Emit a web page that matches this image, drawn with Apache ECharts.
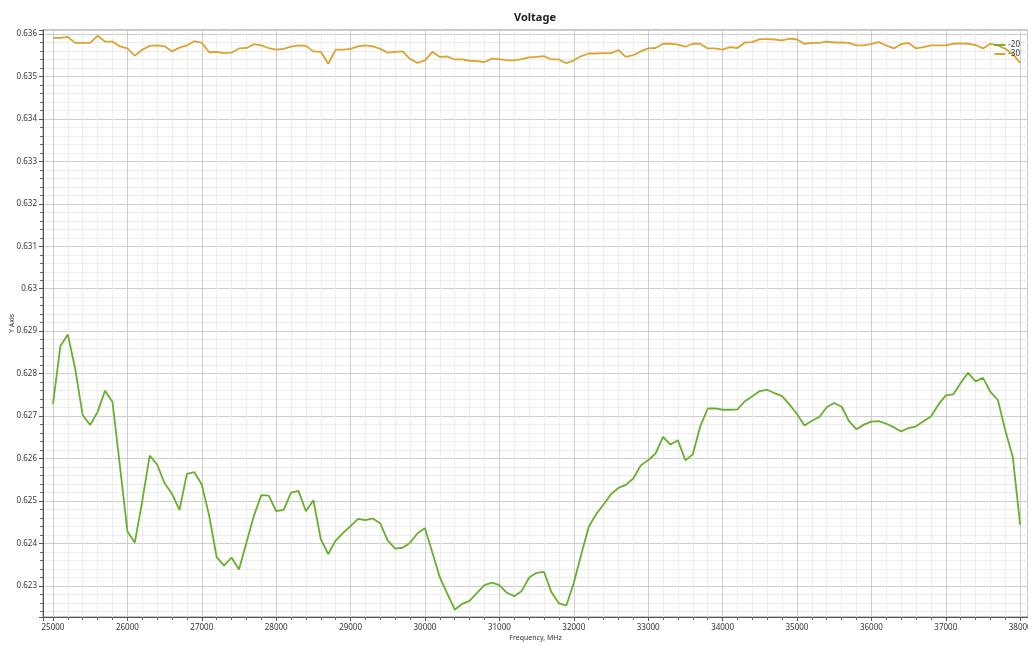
<!DOCTYPE html>
<html>
<head>
<meta charset="utf-8">
<script src="https://cdn.jsdelivr.net/npm/echarts@6/dist/echarts.min.js"></script>
<style>
html, body { margin: 0; padding: 0; background: #fff; }
#chart { width: 1028px; height: 646px; }
</style>
</head>
<body>
<div id="chart"></div>
<script>
// frequency, MHz
var freqs = [
  25000, 25100, 25200, 25300, 25400, 25500, 25600, 25700, 25800, 25900,
  26000, 26100, 26200, 26300, 26400, 26500, 26600, 26700, 26800, 26900,
  27000, 27100, 27200, 27300, 27400, 27500, 27600, 27700, 27800, 27900,
  28000, 28100, 28200, 28300, 28400, 28500, 28600, 28700, 28800, 28900,
  29000, 29100, 29200, 29300, 29400, 29500, 29600, 29700, 29800, 29900,
  30000, 30100, 30200, 30300, 30400, 30500, 30600, 30700, 30800, 30900,
  31000, 31100, 31200, 31300, 31400, 31500, 31600, 31700, 31800, 31900,
  32000, 32100, 32200, 32300, 32400, 32500, 32600, 32700, 32800, 32900,
  33000, 33100, 33200, 33300, 33400, 33500, 33600, 33700, 33800, 33900,
  34000, 34100, 34200, 34300, 34400, 34500, 34600, 34700, 34800, 34900,
  35000, 35100, 35200, 35300, 35400, 35500, 35600, 35700, 35800, 35900,
  36000, 36100, 36200, 36300, 36400, 36500, 36600, 36700, 36800, 36900,
  37000, 37100, 37200, 37300, 37400, 37500, 37600, 37700, 37800, 37900,
  38000
];

var volt20 = [
  0.62729, 0.62865, 0.62892, 0.62810, 0.62702, 0.62679, 0.62710, 0.62760, 0.62733, 0.62582,
  0.62429, 0.62402, 0.62500, 0.62607, 0.62586, 0.62542, 0.62517, 0.62479, 0.62564, 0.62568,
  0.62539, 0.62465, 0.62368, 0.62348, 0.62367, 0.62339, 0.62402, 0.62465, 0.62514, 0.62513,
  0.62476, 0.62479, 0.62520, 0.62524, 0.62476, 0.62502, 0.62410, 0.62375, 0.62407, 0.62425,
  0.62441, 0.62458, 0.62455, 0.62459, 0.62447, 0.62407, 0.62388, 0.62390, 0.62402, 0.62424,
  0.62436, 0.62378, 0.62320, 0.62282, 0.62244, 0.62258, 0.62265, 0.62284, 0.62302, 0.62308,
  0.62302, 0.62284, 0.62276, 0.62288, 0.62320, 0.62331, 0.62333, 0.62285, 0.62259, 0.62254,
  0.62307, 0.62374, 0.62439, 0.62469, 0.62492, 0.62516, 0.62531, 0.62538, 0.62553, 0.62584,
  0.62596, 0.62612, 0.62651, 0.62633, 0.62643, 0.62596, 0.62610, 0.62676, 0.62718, 0.62718,
  0.62715, 0.62715, 0.62716, 0.62735, 0.62747, 0.62759, 0.62762, 0.62754, 0.62747, 0.62727,
  0.62705, 0.62678, 0.62689, 0.62698, 0.62721, 0.62731, 0.62722, 0.62688, 0.62669, 0.62680,
  0.62687, 0.62688, 0.62682, 0.62674, 0.62664, 0.62672, 0.62676, 0.62688, 0.62699, 0.62727,
  0.62749, 0.62751, 0.62778, 0.62802, 0.62782, 0.62790, 0.62757, 0.62738, 0.62666, 0.62604,
  0.62444
];

var volt30 = [
  0.63591, 0.63591, 0.63593, 0.63579, 0.63579, 0.63579, 0.63596, 0.63582, 0.63582, 0.63571,
  0.63566, 0.63549, 0.63563, 0.63572, 0.63573, 0.63571, 0.63559, 0.63568, 0.63573, 0.63583,
  0.63579, 0.63557, 0.63558, 0.63555, 0.63556, 0.63566, 0.63567, 0.63576, 0.63573, 0.63567,
  0.63563, 0.63565, 0.63570, 0.63573, 0.63572, 0.63559, 0.63558, 0.63530, 0.63563, 0.63563,
  0.63565, 0.63571, 0.63573, 0.63571, 0.63565, 0.63556, 0.63558, 0.63559, 0.63541, 0.63532,
  0.63538, 0.63558, 0.63546, 0.63547, 0.63540, 0.63540, 0.63537, 0.63536, 0.63534, 0.63542,
  0.63541, 0.63538, 0.63538, 0.63541, 0.63545, 0.63546, 0.63548, 0.63540, 0.63540, 0.63531,
  0.63538, 0.63548, 0.63554, 0.63554, 0.63555, 0.63555, 0.63562, 0.63546, 0.63550, 0.63559,
  0.63566, 0.63567, 0.63577, 0.63577, 0.63575, 0.63570, 0.63577, 0.63577, 0.63566, 0.63566,
  0.63563, 0.63569, 0.63567, 0.63580, 0.63581, 0.63588, 0.63588, 0.63587, 0.63585, 0.63589,
  0.63587, 0.63577, 0.63579, 0.63579, 0.63582, 0.63580, 0.63580, 0.63579, 0.63573, 0.63573,
  0.63577, 0.63581, 0.63573, 0.63566, 0.63576, 0.63579, 0.63566, 0.63569, 0.63573, 0.63573,
  0.63573, 0.63577, 0.63578, 0.63577, 0.63574, 0.63566, 0.63577, 0.63573, 0.63565, 0.63553,
  0.63532
];

var seriesNames = ['-20', '-30'];
var seriesColors = ['#6aad2f', '#dba332'];

function pairs(ys) {
  var out = [];
  for (var i = 0; i < freqs.length; i++) out.push([freqs[i], ys[i]]);
  return out;
}

var font = 'Noto Sans';
var chart = echarts.init(document.getElementById('chart'));
var option = {
  animation: false,
  textStyle: { fontFamily: font },
  title: {
    text: 'Voltage',
    left: 514,
    top: 12,
    padding: 0,
    textStyle: { fontSize: 11, fontWeight: 'bold', color: '#222', fontFamily: font }
  },
  legend: {
    orient: 'vertical',
    right: 8,
    top: 41,
    padding: 0,
    itemGap: 1,
    itemWidth: 11,
    itemHeight: 2,
    icon: 'rect',
    textStyle: { fontSize: 8, color: '#333', padding: [0, 0, 0, -2] },
    data: seriesNames
  },
  grid: {
    left: 43,
    right: 0,
    top: 30,
    bottom: 29,
    outerBoundsMode: 'none',
    containLabel: false,
    show: true,
    borderColor: '#8a8a8a',
    borderWidth: 1,
    backgroundColor: '#fff'
  },
  xAxis: {
    type: 'value',
    min: 24866,
    max: 38105,
    splitNumber: 13,
    name: 'Frequency, MHz',
    nameLocation: 'middle',
    nameGap: 17,
    nameMoveOverlap: false,
    nameTextStyle: { fontSize: 7, color: '#333' },
    axisLine: { show: true, lineStyle: { color: '#555' } },
    axisTick: { show: true, inside: false, length: 4, lineStyle: { color: '#555' } },
    minorTick: { show: true, splitNumber: 5, length: 3, lineStyle: { color: '#666' } },
    axisLabel: {
      fontSize: 8, color: '#333', margin: 7,
      showMinLabel: false, showMaxLabel: false,
      formatter: function (v) { return String(v); }
    },
    splitLine: { show: true, lineStyle: { color: '#cdcdcd', width: 1 } },
    minorSplitLine: { show: true, lineStyle: { color: '#ececec', width: 1 } }
  },
  yAxis: {
    type: 'value',
    min: 0.622269,
    max: 0.636094,
    splitNumber: 14,
    name: 'Y Axis',
    nameLocation: 'middle',
    nameGap: 28,
    nameMoveOverlap: false,
    nameTextStyle: { fontSize: 7, color: '#333' },
    axisLine: { show: true, lineStyle: { color: '#555' } },
    axisTick: { show: true, inside: false, length: 4, lineStyle: { color: '#555' } },
    minorTick: { show: true, splitNumber: 5, length: 3, lineStyle: { color: '#666' } },
    axisLabel: {
      fontSize: 8, color: '#333', margin: 6,
      showMinLabel: false, showMaxLabel: false,
      formatter: function (v) { return String(+v.toFixed(6)); }
    },
    splitLine: { show: true, lineStyle: { color: '#cdcdcd', width: 1 } },
    minorSplitLine: { show: true, lineStyle: { color: '#ececec', width: 1 } }
  },
  series: [
    {
      name: seriesNames[0],
      type: 'line',
      data: pairs(volt20),
      showSymbol: false,
      color: seriesColors[0],
      lineStyle: { width: 1.8, color: seriesColors[0] }
    },
    {
      name: seriesNames[1],
      type: 'line',
      data: pairs(volt30),
      showSymbol: false,
      color: seriesColors[1],
      lineStyle: { width: 1.8, color: seriesColors[1] }
    }
  ]
};
chart.setOption(option);
</script>
</body>
</html>
